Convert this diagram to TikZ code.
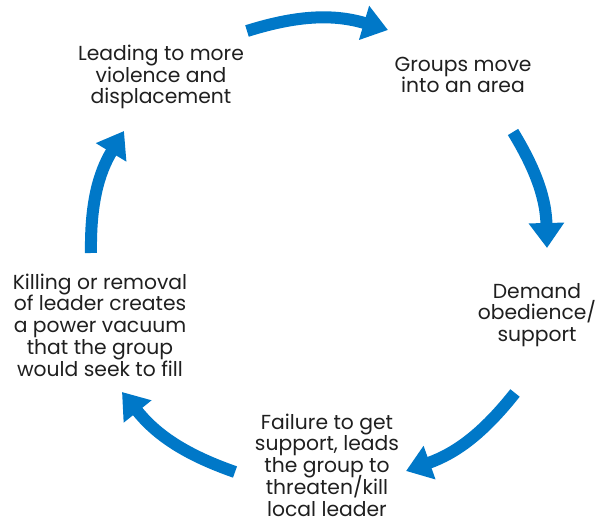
\documentclass[tikz,border=0pt]{standalone}
\usepackage{fontspec}
\setmainfont{Poppins}
\usetikzlibrary{arrows.meta}
\definecolor{cycblue}{RGB}{0,120,200}
\newcommand{\lblfont}{\fontsize{20.3}{21.8}\selectfont\lineskiplimit=-50pt\relax\lineskip=0pt\relax}
\begin{document}
\begin{tikzpicture}[x=1pt,y=1pt,
  lbl/.style={align=center,font=\lblfont,text=black!88,inner sep=0pt},
  cyc/.style={draw=cycblue,line width=12pt,-{Triangle[length=25pt,width=34pt]}}]
\useasboundingbox (0,0) rectangle (607,527);
% labels (y = 527 - pixel y)
\node[lbl] (lead) at (161,450) {Leading to more\\violence and\\displacement};
\node[lbl] (move) at (463,452) {Groups move\\into an area};
\node[lbl] (dem) at (537,212) {Demand\\obedience/\\support};
\node[lbl] (fail) at (327,62) {Failure to get\\support, leads\\the group to\\threaten/kill\\local leader};
\node[lbl] (kill) at (100,202) {Killing or removal\\of leader creates\\a power vacuum\\that the group\\would seek to fill};
% arrow ends
\coordinate (a1) at (247,496);
\coordinate (b1) at (388,497);
\coordinate (a2) at (513,395);
\coordinate (b2) at (547,279);
\coordinate (a3) at (515,134);
\coordinate (b3) at (406,56);
\coordinate (a4) at (235,55);
\coordinate (b4) at (122,135);
\coordinate (a5) at (91,274);
\coordinate (b5) at (124,396);
\draw[cyc] (a1) to[bend left=17] (b1);
\draw[cyc] (a2) to[bend left=15] (b2);
\draw[cyc] (a3) to[bend left=16] (b3);
\draw[cyc] (a4) to[bend left=16] (b4);
\draw[cyc] (a5) to[bend left=16] (b5);
\end{tikzpicture}
\end{document}
